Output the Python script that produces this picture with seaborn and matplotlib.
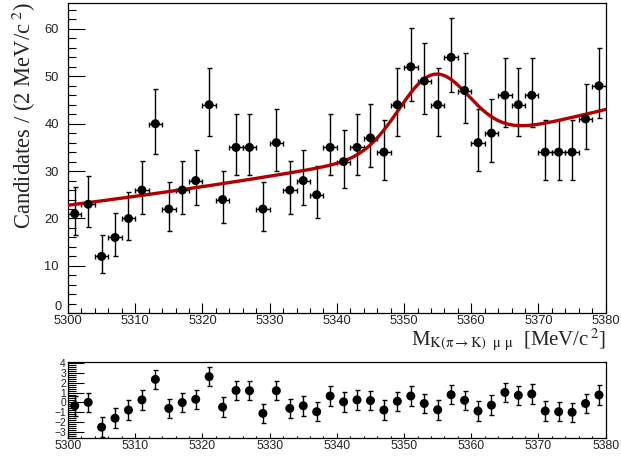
import numpy as np
import pandas as pd
import matplotlib
matplotlib.use("Agg")
import matplotlib.pyplot as plt
from matplotlib.ticker import MultipleLocator, FuncFormatter
import seaborn as sns

# Binned invariant-mass data (2 MeV/c^2 bins)
bin_width = 2.0
mass_low, mass_high = 5300.0, 5380.0
bin_centers = np.arange(mass_low + bin_width / 2, mass_high, bin_width)
counts = [21, 23, 12, 16, 20, 26, 40, 22, 26, 28,
          44, 24, 35, 35, 22, 36, 26, 28, 25, 35,
          32, 35, 37, 34, 44, 52, 49, 44, 54, 47,
          36, 38, 46, 44, 46, 34, 34, 34, 41, 48]

# Pull of each bin with respect to the fitted model
pulls = [-0.35, 0.00, -2.54, -1.63, -0.79, 0.25, 2.35, -0.62, -0.02, 0.31,
         2.63, -0.49, 1.22, 1.19, -1.13, 1.19, -0.62, -0.35, -0.96, 0.65,
         0.05, 0.25, 0.18, -0.79, 0.11, 0.65, -0.12, -0.76, 0.78, 0.21,
         -0.89, -0.29, 1.02, 0.72, 0.85, -0.89, -0.96, -1.02, -0.12, 0.75]

# Fit result: exponential background + Gaussian signal (per bin)
bkg_norm = 22.8       # background at 5300 MeV/c^2
bkg_slope = 0.00793   # exponential slope
sig_amp = 15.3
sig_mean = 5354.4
sig_width = 5.2


def model(m):
    bkg = bkg_norm * np.exp(bkg_slope * (m - mass_low))
    sig = sig_amp * np.exp(-0.5 * ((m - sig_mean) / sig_width) ** 2)
    return bkg + sig


def poisson_interval(n):
    """68.3% Garwood interval (Wilson-Hilferty approximation)."""
    n = np.asarray(n, dtype=float)
    lo = n * (1 - 1 / (9 * n) - np.sqrt(1 / (9 * n))) ** 3
    hi = (n + 1) * (1 - 1 / (9 * (n + 1)) + np.sqrt(1 / (9 * (n + 1)))) ** 3
    return n - lo, hi - n


data = pd.DataFrame({"mass": bin_centers, "counts": counts, "pull": pulls})
err_lo, err_hi = poisson_interval(data["counts"])

curve_m = np.linspace(mass_low, mass_high, 600)
curve = pd.DataFrame({"mass": curve_m, "fit": model(curve_m)})

sns.set_theme(style="ticks")
plt.rcParams["font.family"] = ["Liberation Sans", "DejaVu Sans"]
plt.rcParams["mathtext.fontset"] = "stix"
plt.rcParams["axes.linewidth"] = 0.9

W, H = 621, 458
fig = plt.figure(figsize=(W / 100, H / 100), dpi=100)
fig.patch.set_facecolor("white")

ax = fig.add_axes([68 / W, 1 - 313.3 / H, (605.7 - 68) / W, (313.3 - 3.3) / H])
axp = fig.add_axes([68 / W, 1 - 437.5 / H, (605.7 - 68) / W, (437.5 - 362.3) / H])

# --- main panel ---
ax.errorbar(data["mass"], data["counts"], xerr=bin_width / 2,
            yerr=[err_lo, err_hi], fmt="none", ecolor="black",
            elinewidth=1.0, capsize=1.8, capthick=1.0, zorder=2)
sns.lineplot(data=curve, x="mass", y="fit", ax=ax, color="#b00000",
             linewidth=2.4, zorder=3)
sns.scatterplot(data=data, x="mass", y="counts", ax=ax, color="black",
                s=42, marker="o", edgecolor="none", zorder=4)

ax.set_xlim(mass_low, mass_high)
ax.set_ylim(0, 65.4)
ax.xaxis.set_major_locator(MultipleLocator(10))
ax.xaxis.set_minor_locator(MultipleLocator(2))
ax.yaxis.set_major_locator(MultipleLocator(10))
ax.yaxis.set_minor_locator(MultipleLocator(2))
# the zero label is drawn separately, resting on the bottom axis line
ax.yaxis.set_major_formatter(FuncFormatter(lambda v, _: "" if v == 0 else f"{v:g}"))
ax.tick_params(axis="both", which="both", direction="in", top=False,
               right=False, labelsize=9.3, color="black", width=0.8,
               labelcolor="#222222")
ax.tick_params(axis="x", which="major", length=7.5, pad=1.5)
ax.tick_params(axis="x", which="minor", length=3.8)
ax.tick_params(axis="y", which="major", length=12, pad=6.5)
ax.tick_params(axis="y", which="minor", length=6)
ax.set_xlabel("")
ax.set_ylabel("")
ax.annotate("0", xy=(0, 0), xycoords=("axes fraction", "data"),
            xytext=(-4.5, 0.3), textcoords="offset points",
            ha="right", va="bottom", fontsize=9.3, color="#222222")

fig.text(24 / W, 1 - 2 / H, "Candidates / (2 MeV/c$^{\\ 2}$)",
         rotation=90, ha="center", va="top", fontsize=16.3,
         family="Liberation Serif")
fig.text(606 / W, 1 - 345.5 / H,
         r"M$_{\mathrm{K(\pi \rightarrow K)\ \ \mu\ \mu}}$  [MeV/c$^{\,2}$]",
         ha="right", va="baseline", fontsize=15.0, family="Liberation Serif")

# --- pull panel ---
axp.errorbar(data["mass"], data["pull"], yerr=1.0, fmt="none",
             ecolor="black", elinewidth=1.0, capsize=1.8, capthick=1.0,
             zorder=2)
sns.scatterplot(data=data, x="mass", y="pull", ax=axp, color="black",
                s=42, marker="o", edgecolor="none", zorder=4)
axp.set_xlim(mass_low, mass_high)
axp.set_ylim(-3.6, 4.1)
axp.xaxis.set_major_locator(MultipleLocator(10))
axp.xaxis.set_minor_locator(MultipleLocator(2))
axp.yaxis.set_major_locator(MultipleLocator(1))
axp.yaxis.set_minor_locator(MultipleLocator(0.2))
axp.tick_params(axis="both", which="both", direction="in", top=False,
                right=False, color="black", width=0.8, labelcolor="#222222")
axp.tick_params(axis="x", which="major", length=3.5, pad=1.5, labelsize=8.8)
axp.tick_params(axis="x", which="minor", length=1.8)
axp.tick_params(axis="y", which="major", length=11.5, pad=1.5, labelsize=7.4)
axp.tick_params(axis="y", which="minor", length=5.8)
axp.set_xlabel("")
axp.set_ylabel("")

for a in (ax, axp):
    for s in a.spines.values():
        s.set_color("black")
        s.set_linewidth(0.9)

fig.savefig("out.png", dpi=100, facecolor="white")
